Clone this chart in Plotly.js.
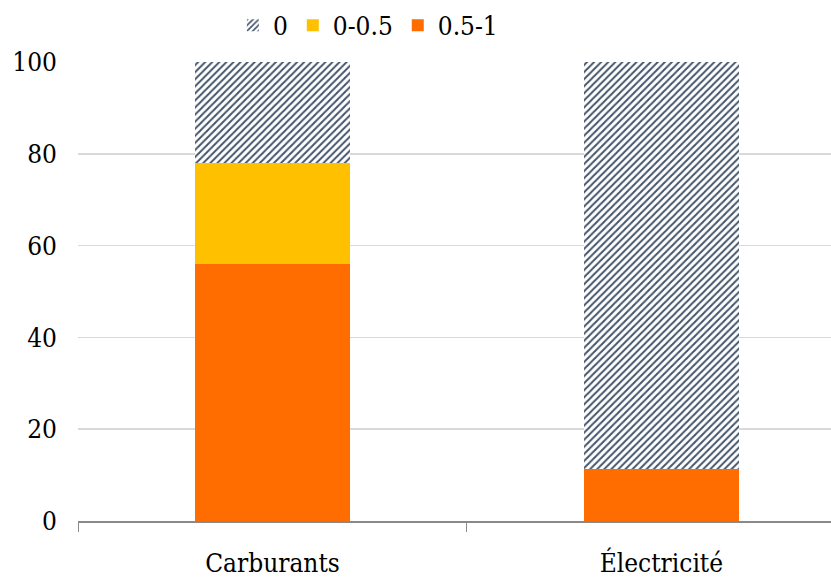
<!DOCTYPE html>
<html><head><meta charset="utf-8">
<script src="https://cdn.plot.ly/plotly-3.0.1.min.js"></script>
<style>body{margin:0;padding:0;background:#fff}#chart{width:831px;height:579px}</style>
</head><body><div id="chart"></div>
<script>
const categories = ["Carburants", "Électricité"];
const seriesNames = ["0.5-1", "0-0.5", "0"];
const values_05_1 = [56, 11.3];
const values_0_05 = [22, 0];
const values_0 = [22, 88.7];
const yTicks = [0, 20, 40, 60, 80, 100];

const FONT = "DejaVu Serif Condensed, DejaVu Serif, serif";
const traces = [
  {type: "bar", name: seriesNames[0], x: categories, y: values_05_1, width: 0.4,
   marker: {color: "#FF6D00"}},
  {type: "bar", name: seriesNames[1], x: categories, y: values_0_05, width: 0.4,
   marker: {color: "#FFC000"}},
  {type: "bar", name: seriesNames[2], x: categories, y: values_0, width: 0.4,
   marker: {color: "#ffffff", pattern: {shape: "/", fgcolor: "#44546A", bgcolor: "#ffffff", size: 5, solidity: 0.4}}}
];
const layout = {
  width: 831, height: 579,
  margin: {l: 78, r: 0, t: 62, b: 58},
  barmode: "stack",
  paper_bgcolor: "#fff", plot_bgcolor: "#fff",
  font: {family: FONT, size: 26, color: "#000", stretch: "condensed"},
  showlegend: true,
  legend: {orientation: "h", traceorder: "reversed", x: 0.385, xanchor: "center", y: 1.08, yanchor: "middle",
           font: {family: FONT, size: 26, stretch: "condensed"}, itemwidth: 30},
  xaxis: {range: [-0.5, 1.436], showline: true, linecolor: "#898989", linewidth: 2,
          ticks: "outside", tickson: "boundaries", ticklen: 9, tickcolor: "#898989",
          ticklabelstandoff: 18, showgrid: false, zeroline: false},
  yaxis: {range: [0, 100], tickvals: yTicks, showgrid: true, gridcolor: "#D9D9D9", gridwidth: 1.5,
          zeroline: false, showline: false, ticks: "", ticklabelstandoff: 20}
};
Plotly.newPlot("chart", traces, layout, {displayModeBar: false, staticPlot: true});
</script></body></html>
